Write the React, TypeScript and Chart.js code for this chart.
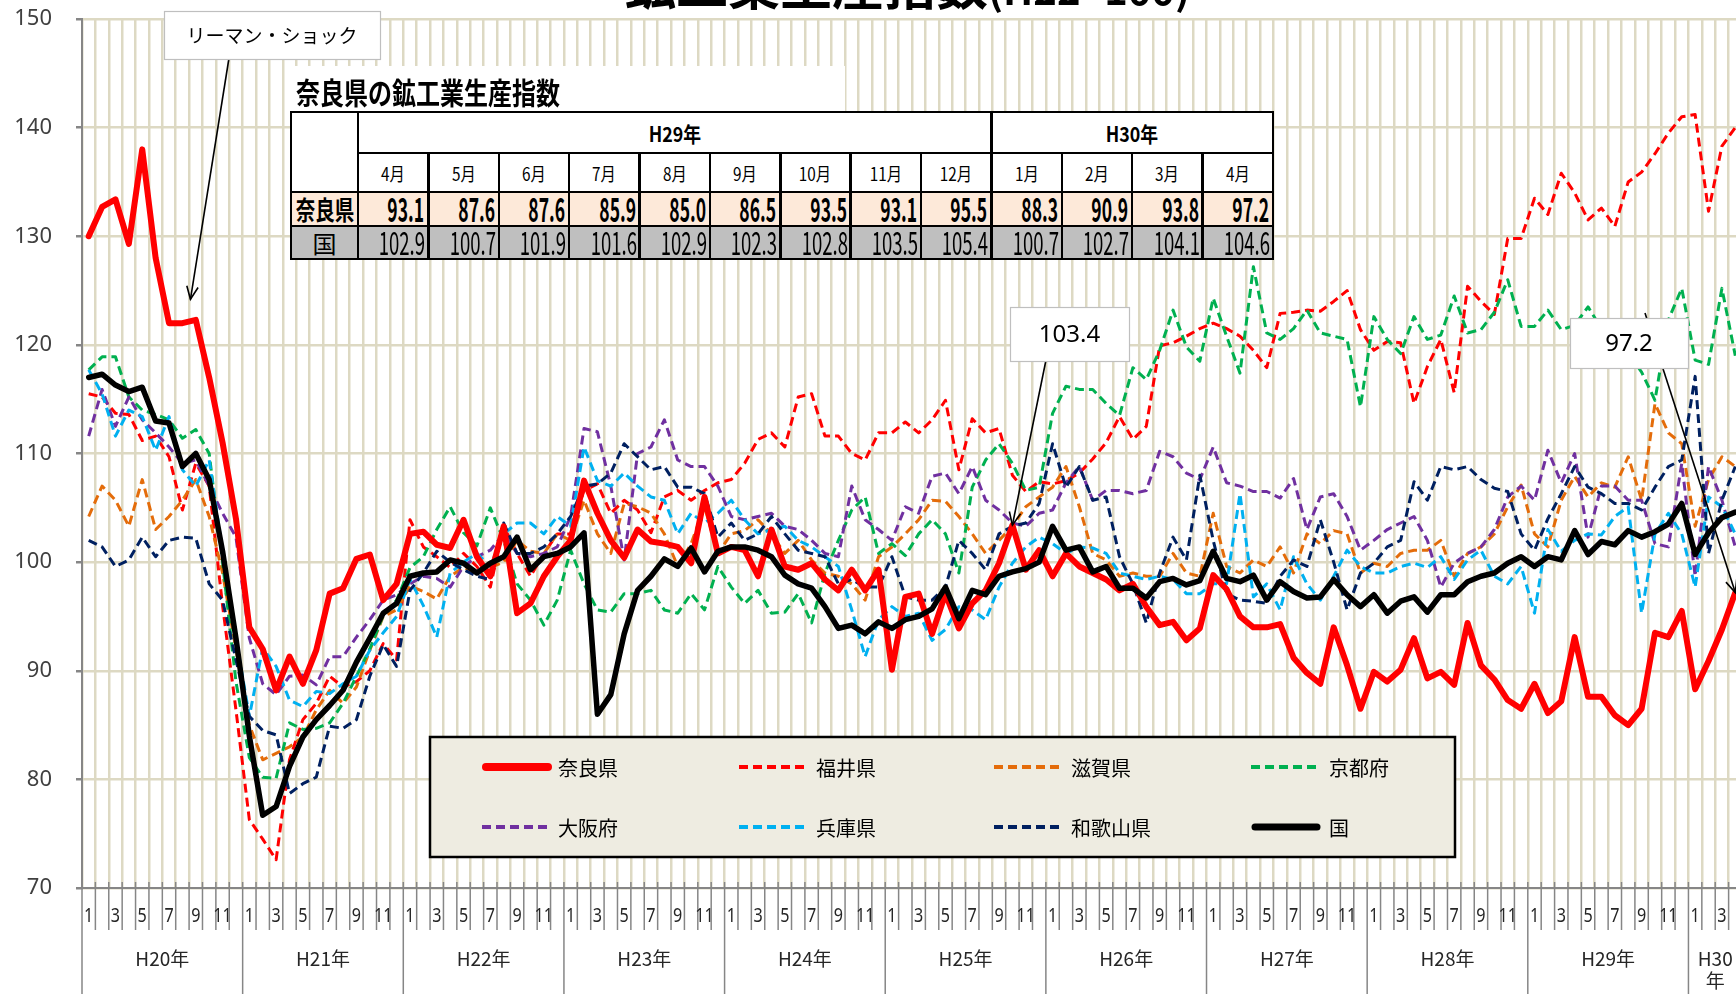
import React, { useEffect, useRef } from 'react';
import { Chart, registerables } from 'chart.js';

Chart.register(...registerables);

// ---------------- data ----------------
const YEAR_LABELS = ['H20年', 'H21年', 'H22年', 'H23年', 'H24年', 'H25年', 'H26年', 'H27年', 'H28年', 'H29年', 'H30年'];
const YEAR_MONTHS = [12, 12, 12, 12, 12, 12, 12, 12, 12, 12, 4];
const Y_MIN = 70;
const Y_MAX = 150;
const Y_STEP = 10;

const SERIES_NAMES = ['奈良県', '福井県', '滋賀県', '京都府', '大阪府', '兵庫県', '和歌山県', '国'];

const NARA = [
  130, 132.7, 133.4, 129.3, 138, 128, 122, 122, 122.3, 117, 111, 104,
  94, 92, 88.2, 91.3, 88.8, 91.9, 97.1, 97.6, 100.3, 100.7, 96.5, 98,
  102.6, 102.8, 101.6, 101.3, 103.9, 100.5, 98.7, 103.3, 95.3, 96.2, 98.7, 100.5,
  102, 107.5, 104.5, 102, 100.4, 103, 101.9, 101.7, 101.4, 99.9, 106, 100.8,
  101.4, 101.1, 98.7, 103, 99.6, 99.3, 99.9, 98.4, 97.4, 99.3, 97.4, 99.3,
  90.1, 96.8, 97.1, 93.4, 97.1, 93.9, 96.2, 97.4, 99.9, 103.4, 99.3, 101.1,
  98.7, 100.8, 99.6, 99, 98.4, 97.4, 98, 95.9, 94.2, 94.5, 92.8, 93.9,
  98.8, 97.5, 95, 94, 94, 94.3, 91.2, 89.8, 88.8, 94, 90.5, 86.5,
  89.9, 89, 90.1, 93, 89.3, 89.9, 88.7, 94.4, 90.5, 89.2, 87.3, 86.5,
  88.8, 86.1, 87.2, 93.1, 87.6, 87.6, 85.9, 85.0, 86.5, 93.5, 93.1, 95.5,
  88.3, 90.9, 93.8, 97.2,
];

const FUKUI = [
  115.5, 115.2, 113.7, 113.6, 111.2, 111.6, 109.7, 104.8, 109.1, 107, 96, 86.4,
  76.3, 74.5, 72.6, 81.8, 85.5, 87, 89.5, 88.5, 89, 90, 92.5, 91,
  103.9, 101.4, 100.5, 99.5, 100.8, 99.6, 97.7, 103.3, 100.8, 98.7, 100.8, 102.6,
  102.6, 106.6, 107.2, 104.5, 105.7, 104.8, 102.7, 106, 106.6, 105.7, 106.6, 107.3,
  107.6, 109.1, 111.3, 111.9, 110.6, 115.2, 115.5, 111.6, 111.6, 110, 109.4, 111.9,
  111.9, 112.9, 111.9, 113.1, 114.9, 108.5, 113.2, 111.9, 112.3, 108, 106.5, 107.4,
  107.2, 107.5, 108.2, 109.5, 111, 113.4, 111.3, 112.5, 119.9, 120.2, 120.8, 121.5,
  122, 121.5, 120.8, 119.5, 117.9, 122.9, 123, 123.2, 123.1, 124, 125, 121.4,
  119.5, 120.3, 120.2, 114.6, 118, 120.5, 115.6, 125.4, 124, 122.8, 129.8, 129.8,
  133.5, 132, 135.8, 134, 131.5, 132.6, 130.9, 135, 135.9, 137.6, 139.5, 141,
  141.2, 132.3, 138.3, 140,
];

const SHIGA = [
  104.2, 107, 105.7, 103.3, 107.6, 103, 104.2, 105.7, 107.6, 104.2, 99, 92,
  85, 81.8, 82.4, 83, 83.9, 86.4, 88.2, 87, 88.5, 91.9, 95, 95.6,
  97.8, 97.3, 96.6, 98.7, 99.5, 99, 99.5, 100, 102, 101, 100.8, 102.6,
  102, 105.7, 102.6, 100.8, 105.4, 105.1, 104.5, 102.6, 99.6, 101.7, 105.1, 100.8,
  102.6, 102.9, 103.9, 102.6, 100.8, 102, 100.2, 99, 98.7, 98, 96.5, 100.5,
  101.4, 102.6, 103.9, 105.7, 105.6, 104.2, 102.6, 100.8, 102, 103.3, 105.1, 106,
  106.9, 108.8, 105.1, 100.8, 100.2, 98.7, 99, 98.7, 98.7, 100.8, 99, 98.7,
  104.5, 99.6, 99, 100.2, 99.6, 101.4, 99, 102.6, 101.7, 102.9, 102.6, 99,
  99.9, 99.6, 100.8, 101.1, 101.1, 102, 98.7, 100.8, 101.4, 102.6, 105.1, 107.1,
  102.6, 101.4, 105.7, 107.9, 106, 107.3, 106.9, 109.7, 105.7, 114.6, 111.9, 110.9,
  103.3, 107.6, 109.7, 108.8,
];

const KYOTO = [
  117.7, 118.9, 118.9, 115.2, 114, 113.6, 113.1, 111.4, 112.2, 110, 100, 89,
  82, 80.2, 80.1, 85.2, 84.6, 84.7, 85.2, 87, 89.5, 92, 95.1, 96.5,
  99.5, 100.5, 103, 105.1, 102.7, 101.5, 105, 102, 98, 96.5, 94.2, 96.5,
  101.1, 98, 95.6, 95.4, 97.1, 97.1, 97.4, 95.6, 95.3, 97.1, 95.6, 99.6,
  97.7, 96.2, 97.4, 95.3, 95.4, 97.1, 94.4, 99, 102, 104.8, 106, 100.8,
  101.7, 100.6, 102.6, 103.9, 102.6, 99, 106.9, 109.4, 110.9, 109.1, 106.6, 106.9,
  113.7, 116.2, 115.9, 115.9, 114.6, 113.5, 117.9, 116.8, 119.5, 123.2, 119.8, 118.5,
  124.3, 120.8, 117.4, 127.2, 121.1, 120.5, 121.5, 123.2, 121.1, 120.8, 120.5, 114.3,
  122.6, 120.5, 119.2, 122.6, 120.5, 120.9, 124.5, 121.1, 121.4, 123, 126, 121.7,
  121.7, 123.2, 121.4, 121.8, 123.5, 121.5, 120.3, 119.2, 117.5, 114.9, 122.3, 125.2,
  118.6, 118.2, 125.2, 119,
];

const OSAKA = [
  111.6, 115.9, 112.5, 115.2, 113.1, 111.9, 110.6, 109.1, 109.4, 107, 104.5, 102.3,
  93, 88.8, 87.8, 89.5, 89.6, 88.7, 91.3, 91.3, 93.1, 94.7, 96.5, 97,
  98, 98.7, 98.5, 97.7, 99.6, 100.5, 101.1, 102.6, 100.8, 100.5, 100.8, 101.4,
  104.2, 112.3, 112, 107, 100.2, 110, 110.6, 113.1, 109.4, 108.8, 108.8, 107,
  104.2, 103.9, 104.2, 104.5, 103.3, 103, 102, 100.8, 100.5, 107, 103.9, 103,
  102, 105.1, 104.5, 107.9, 108.2, 106.3, 108.8, 105.7, 104.8, 103.6, 103.3, 104.5,
  104.8, 107.3, 108.8, 105.7, 106.6, 106.6, 106.3, 106.6, 110.2, 109.7, 108.2, 107.6,
  110.6, 107.3, 107, 106.5, 106.5, 105.9, 107.7, 103, 106, 106.3, 104.2, 101.1,
  102, 103, 103.6, 104.2, 102, 97.7, 99.9, 100.8, 101.4, 103, 106, 107,
  105.7, 110.3, 107.3, 110, 102.3, 107, 107, 105.7, 105.7, 101.7, 101.4, 109.1,
  98.7, 108.8, 105.7, 101.4,
];

const HYOGO = [
  117.7, 115.5, 111.6, 114, 113.4, 110.3, 113.4, 108.5, 107, 109.4, 101, 93,
  85.8, 92.1, 90.4, 87.3, 86.7, 88.1, 87.9, 88.8, 89.5, 91.9, 93.5, 95,
  98.4, 96, 93.1, 99, 100, 100.8, 99.6, 102.6, 103.6, 103.6, 102.6, 104.2,
  103.3, 110.6, 107.5, 107, 108.2, 107, 106, 105.7, 102.6, 104.5, 103.6, 104.5,
  105.7, 103.9, 102.6, 103, 103.3, 102, 101.4, 100.5, 99.6, 95.6, 91.3, 94.7,
  95.9, 95, 95.3, 92.8, 93.8, 95.9, 95.6, 94.7, 97.7, 99.9, 101.4, 102.3,
  101.7, 100.8, 101.4, 101.3, 100.8, 99, 98.7, 98.4, 98.7, 98.4, 97.1, 97.1,
  98, 98, 106.3, 96.8, 98, 95.6, 100.5, 98, 96.5, 98.7, 101.1, 99.6,
  99, 99, 99.6, 99.9, 99.5, 100.5, 98.4, 100.2, 101.1, 98.7, 98, 99.6,
  95.3, 103, 101, 102, 102.6, 102.5, 104.2, 105.1, 95.3, 102.6, 104.5, 102.6,
  97.7, 106, 105.1, 102.6,
];

const WAKAYAMA = [
  102, 101.4, 99.6, 100.2, 102.3, 100.5, 102, 102.3, 102.2, 98, 96.5, 91,
  85.8, 84.5, 84.1, 78.7, 79.6, 80.2, 84.9, 84.7, 85.5, 89.5, 92.4, 90.4,
  97.4, 99, 101, 100, 99.3, 98.7, 98.4, 103.6, 100.8, 100.8, 101.4, 102.6,
  104.2, 107, 107.2, 108.2, 110.9, 109.7, 108.5, 108.8, 106.9, 106.9, 106.3, 102.3,
  103.6, 102, 102.6, 104.2, 102.6, 101.1, 100.8, 100.5, 98, 98.4, 97.7, 97.7,
  100.5, 96.8, 96.5, 96.5, 97.7, 102, 100.8, 99.3, 102.6, 103.3, 103.6, 105.4,
  110.9, 106.9, 108.8, 105.7, 106, 100.5, 98, 94.4, 99, 102.3, 100.2, 108,
  102, 97.1, 96.5, 96.4, 96.2, 98.7, 100.2, 99.6, 103.9, 100, 95.6, 99,
  99.9, 101.4, 102, 107.4, 105.7, 108.8, 108.5, 108.8, 107.6, 106.8, 106.5, 102.6,
  101.1, 104, 106.3, 108.8, 106.9, 106.3, 105.4, 105.4, 104.8, 106.9, 108.8, 109.4,
  117.1, 100.8, 105.7, 108.8,
];

const KUNI = [
  117, 117.3, 116.3, 115.7, 116.1, 113, 112.8, 108.8, 110, 107.6, 101, 93,
  84, 76.7, 77.5, 81.2, 83.9, 85.5, 86.8, 88.2, 90.8, 93, 95.3, 96.2,
  98.7, 99, 99.1, 100.2, 99.9, 99, 99.9, 100.5, 102.3, 99.3, 100.5, 100.8,
  101.4, 102.7, 86, 87.8, 93.4, 97.4, 98.7, 100.3, 99.6, 101.3, 99.1, 101,
  101.4, 101.4, 101.1, 100.5, 98.8, 98, 97.6, 95.9, 93.9, 94.2, 93.4, 94.5,
  93.9, 94.7, 95, 95.7, 97.7, 94.8, 97.4, 97, 98.7, 99.1, 99.4, 100,
  103.3, 101.1, 101.4, 99.1, 99.6, 97.6, 97.6, 96.7, 98.2, 98.5, 97.9, 98.3,
  101, 98.5, 98.2, 98.8, 96.5, 98.2, 97.3, 96.7, 96.8, 98.4, 97, 95.9,
  97, 95.3, 96.4, 96.8, 95.4, 97, 97, 98.2, 98.7, 99, 99.9, 100.5,
  99.6, 100.5, 100.2, 102.9, 100.7, 101.9, 101.6, 102.9, 102.3, 102.8, 103.5, 105.4,
  100.7, 102.7, 104.1, 104.6,
];

// inset table
const TABLE_TITLE = '奈良県の鉱工業生産指数';
const TABLE_YEARS = ['H29年', 'H30年'];
const TABLE_YEAR_SPANS = [9, 4];
const TABLE_MONTHS = ['4月', '5月', '6月', '7月', '8月', '9月', '10月', '11月', '12月', '1月', '2月', '3月', '4月'];
const TABLE_ROWS = ['奈良県', '国'];
const TABLE_NARA = [93.1, 87.6, 87.6, 85.9, 85.0, 86.5, 93.5, 93.1, 95.5, 88.3, 90.9, 93.8, 97.2];
const TABLE_KUNI = [102.9, 100.7, 101.9, 101.6, 102.9, 102.3, 102.8, 103.5, 105.4, 100.7, 102.7, 104.1, 104.6];

const TITLE_MAIN = '鉱工業生産指数';
const TITLE_SUB = '(H22=100)';
const LEHMAN_TEXT = 'リーマン・ショック';

// ---------------- layout / style ----------------
const PAGE_W = 1736;
const PAGE_H = 994;
const OFF = 60; // canvas starts 60px above the page (title is cut off)
const CANVAS_W = 1742;
const CANVAS_H = PAGE_H + OFF;
const GRID = '#ddd9c3';
const AXIS = '#868686';
const JP = '"Noto Sans CJK JP", "Noto Sans", sans-serif';
const LAT = '"Noto Sans", "Noto Sans CJK JP", sans-serif';

const LABELS: string[] = YEAR_MONTHS.flatMap((n) => Array.from({ length: n }, (_, k) => String(k + 1)));
const SERIES_VALUES = [NARA, FUKUI, SHIGA, KYOTO, OSAKA, HYOGO, WAKAYAMA, KUNI];
const DASH = [9, 5];
const STYLES = [
  { color: '#ff0000', width: 6, dash: [] as number[], order: 1, legendWidth: 8 },
  { color: '#ff0000', width: 3, dash: DASH, order: 7, legendWidth: 4 },
  { color: '#e46c0a', width: 3, dash: DASH, order: 6, legendWidth: 4 },
  { color: '#00b050', width: 3, dash: DASH, order: 5, legendWidth: 4 },
  { color: '#7030a0', width: 3, dash: DASH, order: 4, legendWidth: 4 },
  { color: '#00b0f0', width: 3, dash: DASH, order: 3, legendWidth: 4 },
  { color: '#002060', width: 3, dash: DASH, order: 2, legendWidth: 4 },
  { color: '#000000', width: 5.5, dash: [] as number[], order: 0, legendWidth: 7 },
];

const cy = (pageY: number) => pageY + OFF;

function drawArrow(ctx: any, x1: number, y1: number, x2: number, y2: number) {
  ctx.beginPath();
  ctx.moveTo(x1, y1);
  ctx.lineTo(x2, y2);
  ctx.stroke();
  const a = Math.atan2(y2 - y1, x2 - x1);
  const L = 14;
  const w = 0.42;
  ctx.beginPath();
  ctx.moveTo(x2 - L * Math.cos(a - w), y2 - L * Math.sin(a - w));
  ctx.lineTo(x2, y2);
  ctx.lineTo(x2 - L * Math.cos(a + w), y2 - L * Math.sin(a + w));
  ctx.stroke();
}

const decorPlugin = {
  id: 'decor',
  afterDraw(chart: any) {
    const { ctx, chartArea: ca } = chart;
    const xs = chart.scales.x;
    const ys = chart.scales.y;
    ctx.save();

    // ---- title (cut off at top) ----
    ctx.fillStyle = '#000';
    ctx.textBaseline = 'alphabetic';
    ctx.textAlign = 'left';
    ctx.font = `bold 52px ${JP}`;
    const w1 = ctx.measureText(TITLE_MAIN).width;
    ctx.font = `bold 40px ${JP}`;
    const w2 = ctx.measureText(TITLE_SUB).width;
    const tx = 907 - (w1 + w2) / 2;
    ctx.font = `bold 52px ${JP}`;
    ctx.fillText(TITLE_MAIN, tx, cy(5));
    ctx.font = `bold 40px ${JP}`;
    ctx.fillText(TITLE_SUB, tx + w1, cy(5));

    // ---- x axis: ticks, month labels, year separators and labels ----
    const axisY = ca.bottom;
    const yearStarts: number[] = [0];
    YEAR_MONTHS.forEach((n, j) => yearStarts.push(yearStarts[j] + n));
    ctx.strokeStyle = AXIS;
    ctx.lineWidth = 1.5;
    for (let k = 0; k <= LABELS.length; k++) {
      const xb = xs.getPixelForValue(k - 0.5);
      const isYear = yearStarts.includes(k);
      ctx.beginPath();
      ctx.moveTo(xb, axisY - 6);
      ctx.lineTo(xb, isYear ? CANVAS_H : cy(930));
      ctx.stroke();
    }
    ctx.fillStyle = '#262626';
    ctx.textAlign = 'center';
    ctx.textBaseline = 'middle';
    ctx.font = `19px ${LAT}`;
    LABELS.forEach((m, i) => {
      if (Number(m) % 2 !== 1) return;
      const x = xs.getPixelForValue(i);
      ctx.save();
      ctx.translate(x, cy(917));
      ctx.scale(0.85, 1);
      ctx.fillText(m, 0, 0);
      ctx.restore();
    });
    ctx.font = `19px ${JP}`;
    YEAR_LABELS.forEach((lab, j) => {
      const x0 = xs.getPixelForValue(yearStarts[j] - 0.5);
      const x1 = xs.getPixelForValue(yearStarts[j + 1] - 0.5);
      const cx = (x0 + x1) / 2;
      if (YEAR_MONTHS[j] < 12) {
        ctx.fillText(lab.slice(0, -1), cx, cy(959));
        ctx.fillText(lab.slice(-1), cx, cy(981));
      } else {
        ctx.fillText(lab, cx, cy(959));
      }
    });

    // ---- legend box ----
    const LB = { x: 430, y: 737, w: 1025, h: 120 };
    ctx.fillStyle = '#eeece1';
    ctx.fillRect(LB.x, cy(LB.y), LB.w, LB.h);
    ctx.strokeStyle = '#000';
    ctx.lineWidth = 2.5;
    ctx.strokeRect(LB.x, cy(LB.y), LB.w, LB.h);
    const colSample = [482, 739, 994, 1251];
    const colLabel = [558, 816, 1071, 1329];
    const rowY = [767, 827];
    SERIES_NAMES.forEach((name, s) => {
      const r = Math.floor(s / 4);
      const c = s % 4;
      const st = STYLES[s];
      const y = cy(rowY[r]);
      ctx.strokeStyle = st.color;
      ctx.lineWidth = st.legendWidth;
      ctx.setLineDash(st.dash);
      ctx.lineCap = st.dash.length ? 'butt' : 'round';
      ctx.beginPath();
      ctx.moveTo(colSample[c] + (st.dash.length ? 0 : 4), y);
      ctx.lineTo(colSample[c] + (st.dash.length ? 70 : 66), y);
      ctx.stroke();
      ctx.setLineDash([]);
      ctx.lineCap = 'butt';
      ctx.fillStyle = '#000';
      ctx.textAlign = 'left';
      ctx.textBaseline = 'middle';
      ctx.font = `20px ${JP}`;
      ctx.fillText(name, colLabel[c], y + 1);
    });

    // ---- callouts ----
    const callouts = [
      { text: LEHMAN_TEXT, font: `19px ${JP}`, box: [164, 11, 216, 48], from: [229, 58], idx: 7.6, val: 124.2 },
      { text: NARA[69].toFixed(1), font: `24px ${LAT}`, box: [1010, 307, 119, 54], from: [1046, 360], idx: 69, val: NARA[69] },
      { text: NARA[123].toFixed(1), font: `24px ${LAT}`, box: [1570, 318, 118, 50], from: [1645, 313], idx: 123, val: NARA[123] },
    ];
    callouts.forEach((c) => {
      const tx2 = xs.getPixelForValue(c.idx);
      const ty2 = ys.getPixelForValue(c.val);
      ctx.strokeStyle = '#000';
      ctx.lineWidth = 1.6;
      drawArrow(ctx, c.from[0], cy(c.from[1]), tx2, ty2);
      const [bx, by, bw, bh] = c.box;
      ctx.fillStyle = '#fff';
      ctx.fillRect(bx, cy(by), bw, bh);
      ctx.strokeStyle = '#bfbfbf';
      ctx.lineWidth = 1.2;
      ctx.strokeRect(bx + 0.5, cy(by) + 0.5, bw, bh);
      ctx.fillStyle = '#000';
      ctx.font = c.font;
      ctx.textAlign = 'center';
      ctx.textBaseline = 'middle';
      ctx.fillText(c.text, bx + bw / 2, cy(by) + bh / 2 + 1);
    });

    ctx.restore();
  },
};

// ---------------- HTML inset table ----------------
function Txt(props: { x: number; y: number; text: string; size: number; weight?: number; sx?: number; align?: 'left' | 'center' | 'right'; family?: string }) {
  const { x, y, text, size, weight = 400, sx = 1, align = 'center', family = JP } = props;
  const tr = align === 'center' ? '-50%' : align === 'right' ? '-100%' : '0';
  return (
    <span
      style={{
        position: 'absolute',
        left: x,
        top: y,
        fontFamily: family,
        fontSize: size,
        fontWeight: weight,
        lineHeight: 1,
        whiteSpace: 'nowrap',
        color: '#000',
        transformOrigin: align === 'center' ? 'center' : align,
        transform: `translate(${tr}, -50%) scaleX(${sx})`,
      }}
    >
      {text}
    </span>
  );
}

function InsetTable() {
  const colX: number[] = [291, 358];
  for (let k = 1; k <= TABLE_MONTHS.length; k++) colX.push(358 + k * 70.38);
  const rowY = [112, 153, 192, 226, 259];
  const right = colX[colX.length - 1];
  const B = 2.5;
  const els: any[] = [];
  const rect = (x: number, y: number, w: number, h: number, bg: string, key: string) =>
    els.push(<div key={key} style={{ position: 'absolute', left: x, top: y, width: w, height: h, background: bg }} />);
  const hl = (y: number, x1: number, x2: number, key: string) =>
    els.push(<div key={key} style={{ position: 'absolute', left: x1 - B / 2, top: y - B / 2, width: x2 - x1 + B, height: B, background: '#000' }} />);
  const vl = (x: number, y1: number, y2: number, key: string) =>
    els.push(<div key={key} style={{ position: 'absolute', left: x - B / 2, top: y1 - B / 2, width: B, height: y2 - y1 + B, background: '#000' }} />);

  rect(291, 66, 554, 46, '#fff', 'titlebg');
  rect(colX[0], rowY[0], right - colX[0], rowY[2] - rowY[0], '#fff', 'hdrbg');
  rect(colX[0], rowY[2], right - colX[0], rowY[3] - rowY[2], '#fde9d9', 'narabg');
  rect(colX[0], rowY[3], right - colX[0], rowY[4] - rowY[3], '#bfbfbf', 'kunibg');

  hl(rowY[0], colX[0], right, 'h0');
  hl(rowY[1], colX[1], right, 'h1');
  hl(rowY[2], colX[0], right, 'h2');
  hl(rowY[3], colX[0], right, 'h3');
  hl(rowY[4], colX[0], right, 'h4');
  const yearEdges = [1];
  TABLE_YEAR_SPANS.forEach((s, j) => yearEdges.push(yearEdges[j] + s));
  colX.forEach((x, k) => {
    const full = k === 0 || yearEdges.includes(k);
    vl(x, full ? rowY[0] : rowY[1], rowY[4], 'v' + k);
  });

  els.push(<Txt key="title" x={296} y={91} text={TABLE_TITLE} size={30} weight={700} sx={0.8} align="left" />);
  TABLE_YEARS.forEach((yl, j) => {
    const cx = (colX[yearEdges[j]] + colX[yearEdges[j + 1]]) / 2;
    els.push(<Txt key={'y' + j} x={cx} y={(rowY[0] + rowY[1]) / 2} text={yl} size={21} weight={700} sx={0.85} />);
  });
  TABLE_MONTHS.forEach((m, k) => {
    const cx = (colX[k + 1] + colX[k + 2]) / 2;
    els.push(<Txt key={'m' + k} x={cx} y={(rowY[1] + rowY[2]) / 2} text={m} size={18} sx={0.85} />);
  });
  const c0 = (colX[0] + colX[1]) / 2;
  els.push(<Txt key="r0" x={c0} y={(rowY[2] + rowY[3]) / 2} text={TABLE_ROWS[0]} size={26} weight={700} sx={0.75} />);
  els.push(<Txt key="r1" x={c0} y={(rowY[3] + rowY[4]) / 2} text={TABLE_ROWS[1]} size={24} />);
  TABLE_NARA.forEach((v, k) => {
    els.push(<Txt key={'n' + k} x={colX[k + 2] - 4} y={(rowY[2] + rowY[3]) / 2 - 1} text={v.toFixed(1)} size={33} weight={700} sx={0.53} align="right" />);
  });
  TABLE_KUNI.forEach((v, k) => {
    els.push(<Txt key={'k' + k} x={colX[k + 2] - 3} y={(rowY[3] + rowY[4]) / 2 - 2} text={v.toFixed(1)} size={32} sx={0.58} align="right" />);
  });
  return <>{els}</>;
}

// ---------------- component ----------------
export default function App() {
  const ref = useRef<HTMLCanvasElement | null>(null);

  useEffect(() => {
    if (!ref.current) return;
    const chart = new Chart(ref.current, {
      type: 'line',
      data: {
        labels: LABELS,
        datasets: SERIES_NAMES.map((name, s) => ({
          label: name,
          data: SERIES_VALUES[s],
          borderColor: STYLES[s].color,
          backgroundColor: STYLES[s].color,
          borderWidth: STYLES[s].width,
          borderDash: STYLES[s].dash,
          borderJoinStyle: 'round',
          borderCapStyle: STYLES[s].dash.length ? 'butt' : 'round',
          pointRadius: 0,
          pointHoverRadius: 0,
          tension: 0,
          fill: false,
          order: STYLES[s].order,
        })),
      } as any,
      options: {
        responsive: false,
        maintainAspectRatio: false,
        animation: false,
        events: [],
        layout: { padding: { top: 79, left: 0, right: 0, bottom: 0 } },
        plugins: {
          legend: { display: false },
          tooltip: { enabled: false },
          title: { display: false },
        },
        scales: {
          x: {
            type: 'category',
            offset: true,
            grid: { offset: true, color: GRID, lineWidth: 2.5, drawTicks: false },
            border: { color: AXIS, width: 2 },
            ticks: { display: false },
            afterFit: (s: any) => {
              s.height = CANVAS_H - cy(888);
            },
          },
          y: {
            min: Y_MIN,
            max: Y_MAX,
            ticks: { stepSize: Y_STEP, color: '#404040', padding: 24, font: { size: 22, family: LAT } },
            grid: { color: GRID, lineWidth: 2.5, tickColor: AXIS, tickLength: 6 },
            border: { color: AXIS, width: 2 },
            afterFit: (s: any) => {
              s.width = 82;
            },
          },
        },
      } as any,
      plugins: [decorPlugin],
    });
    return () => chart.destroy();
  }, []);

  return (
    <div style={{ position: 'fixed', left: 0, top: 0, width: PAGE_W, height: PAGE_H, overflow: 'hidden', background: '#fff' }}>
      <canvas
        ref={ref}
        width={CANVAS_W}
        height={CANVAS_H}
        style={{ position: 'absolute', left: 0, top: -OFF, width: CANVAS_W, height: CANVAS_H }}
      />
      <InsetTable />
    </div>
  );
}
